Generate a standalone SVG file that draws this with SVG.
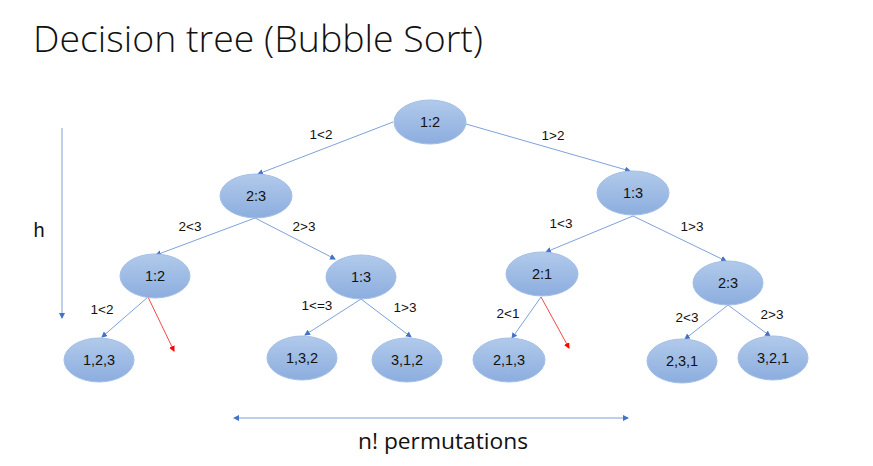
<svg xmlns="http://www.w3.org/2000/svg" width="873" height="466" viewBox="0 0 873 466">
<defs>
<linearGradient id="g" x1="0" y1="0" x2="0" y2="1">
<stop offset="0" stop-color="#b1caeb"/>
<stop offset="1" stop-color="#8cadde"/>
</linearGradient>
<marker id="ab" markerWidth="6" markerHeight="6" refX="5" refY="3" orient="auto" markerUnits="userSpaceOnUse">
<path d="M0,0 L6,3 L0,6 z" fill="#4472c4"/>
</marker>
<marker id="ab2" markerWidth="6" markerHeight="6" refX="1" refY="3" orient="auto-start-reverse" markerUnits="userSpaceOnUse">
<path d="M0,0 L6,3 L0,6 z" fill="#4472c4"/>
</marker>
<marker id="ar" markerWidth="6" markerHeight="6" refX="5" refY="3" orient="auto" markerUnits="userSpaceOnUse">
<path d="M0,0 L6,3 L0,6 z" fill="#ff0000"/>
</marker>
<style>
.n ellipse{fill:url(#g);stroke:#a3bfe6;stroke-width:1}
.n text{font-family:"Liberation Sans",Arial,sans-serif;font-size:14.5px;fill:#111;text-anchor:middle}
.e line{stroke:#7096d6;stroke-width:0.9;marker-end:url(#ab)}
.e line.r{stroke:#ff3030;marker-end:url(#ar)}
.l{font-family:"Liberation Sans",Arial,sans-serif;font-size:13.5px;fill:#111;text-anchor:middle}
</style>
</defs>
<rect width="873" height="466" fill="#fff"/>
<text x="33" y="52" font-family="Open Sans,Liberation Sans,sans-serif" font-weight="300" font-size="37" fill="#111" textLength="450" lengthAdjust="spacingAndGlyphs">Decision tree (Bubble Sort)</text>

<g id="connectors" class="e">
<line x1="393" y1="122" x2="258" y2="174"/>
<line x1="466" y1="124" x2="630" y2="171"/>
<line x1="255" y1="218" x2="156" y2="255"/>
<line x1="255" y1="218" x2="335" y2="259"/>
<line x1="148" y1="297" x2="102" y2="337"/>
<line class="r" x1="148" y1="297" x2="174" y2="351"/>
<line x1="361" y1="299" x2="305" y2="335"/>
<line x1="361" y1="299" x2="411" y2="337"/>
<line x1="633" y1="216" x2="546" y2="252"/>
<line x1="633" y1="216" x2="726" y2="261"/>
<line x1="541" y1="297" x2="512" y2="338"/>
<line class="r" x1="541" y1="297" x2="569" y2="348"/>
<line x1="728" y1="305" x2="685" y2="339"/>
<line x1="728" y1="305" x2="770" y2="336"/>
<line x1="62" y1="128" x2="62" y2="318"/>
<line x1="238" y1="418" x2="628" y2="418" marker-start="url(#ab2)"/>
</g>

<g class="l">
<text x="321" y="139" class="l">1&lt;2</text>
<text x="553" y="140" class="l">1&gt;2</text>
<text x="190" y="231" class="l">2&lt;3</text>
<text x="304" y="231" class="l">2&gt;3</text>
<text x="102" y="314" class="l">1&lt;2</text>
<text x="317" y="310" class="l">1&lt;=3</text>
<text x="405" y="312" class="l">1&gt;3</text>
<text x="561" y="228" class="l">1&lt;3</text>
<text x="692" y="231" class="l">1&gt;3</text>
<text x="508" y="318" class="l">2&lt;1</text>
<text x="687" y="322" class="l">2&lt;3</text>
<text x="772" y="319" class="l">2&gt;3</text>
</g>

<g id="n_root" class="n"><ellipse cx="430" cy="122" rx="36" ry="22"/><text x="430" y="127">1:2</text></g>
<g id="n_l1a" class="n"><ellipse cx="256" cy="196" rx="36" ry="22"/><text x="256" y="201">2:3</text></g>
<g id="n_l1b" class="n"><ellipse cx="633" cy="193" rx="36" ry="22"/><text x="633" y="198">1:3</text></g>
<g id="n_l2a" class="n"><ellipse cx="155" cy="276" rx="35" ry="22"/><text x="155" y="281">1:2</text></g>
<g id="n_l2b" class="n"><ellipse cx="361" cy="277" rx="35" ry="22"/><text x="361" y="282">1:3</text></g>
<g id="n_l2c" class="n"><ellipse cx="542" cy="274" rx="36" ry="22"/><text x="542" y="279">2:1</text></g>
<g id="n_l2d" class="n"><ellipse cx="728" cy="283" rx="35" ry="22"/><text x="728" y="288">2:3</text></g>
<g id="n_123" class="n"><ellipse cx="99" cy="360" rx="35" ry="22"/><text x="99" y="365">1,2,3</text></g>
<g id="n_132" class="n"><ellipse cx="302" cy="358" rx="35" ry="22"/><text x="302" y="363">1,3,2</text></g>
<g id="n_312" class="n"><ellipse cx="407" cy="360" rx="35" ry="22"/><text x="407" y="365">3,1,2</text></g>
<g id="n_213" class="n"><ellipse cx="509" cy="360" rx="36" ry="22"/><text x="509" y="365">2,1,3</text></g>
<g id="n_231" class="n"><ellipse cx="682" cy="361" rx="35" ry="22"/><text x="682" y="366">2,3,1</text></g>
<g id="n_321" class="n"><ellipse cx="773" cy="358" rx="35" ry="22"/><text x="773" y="363">3,2,1</text></g>

<text x="39" y="237" font-family="Liberation Sans,Arial,sans-serif" font-size="20" fill="#111" text-anchor="middle">h</text>
<text x="358" y="449" font-family="Open Sans,Liberation Sans,sans-serif" font-size="21" fill="#111" textLength="170" lengthAdjust="spacingAndGlyphs">n! permutations</text>
</svg>
